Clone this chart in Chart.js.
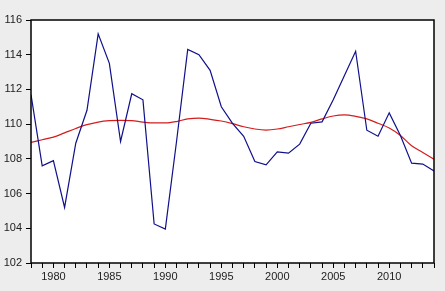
<!DOCTYPE html>
<html>
<head>
<meta charset="utf-8">
<script src="https://cdn.jsdelivr.net/npm/chart.js@4"></script>
<style>
  html, body { margin: 0; padding: 0; background: #ededed; }
  canvas { display: block; }
</style>
</head>
<body>
<canvas id="chart" width="445" height="291"></canvas>
<script>
// yearly values
const years = [];
for (let y = 1978; y <= 2014; y++) years.push(y);

const actual = [
  111.7, 107.6, 107.9, 105.2, 108.9, 110.8, 115.2, 113.5, 109.0, 111.75,
  111.4, 104.25, 103.95, 109.0, 114.3, 114.0, 113.1, 111.0, 110.05, 109.3,
  107.85, 107.65, 108.4, 108.33, 108.85, 110.05, 110.13, 111.4, 112.8, 114.2,
  109.65, 109.3, 110.65, 109.35, 107.75, 107.7, 107.3
];

const trend = [
  108.95, 109.1, 109.25, 109.5, 109.75, 109.97, 110.12, 110.2, 110.22, 110.2,
  110.12, 110.07, 110.07, 110.15, 110.3, 110.35, 110.28, 110.18, 110.03, 109.85,
  109.72, 109.66, 109.72, 109.85, 109.98, 110.1, 110.3, 110.47, 110.53, 110.45,
  110.3, 110.05, 109.78, 109.35, 108.75, 108.37, 107.98
];

const yTicks = [102, 104, 106, 108, 110, 112, 114, 116];
const xLabelEvery = 5;

const frame = {
  id: "frame",
  beforeDraw(c) {
    const { ctx, chartArea: a } = c;
    ctx.save();
    ctx.fillStyle = "#ededed";
    ctx.fillRect(0, 0, c.width, c.height);
    ctx.fillStyle = "#ffffff";
    ctx.fillRect(a.left, a.top, a.right - a.left, a.bottom - a.top);
    ctx.restore();
  },
  afterDraw(c) {
    const { ctx, chartArea: a } = c;
    ctx.save();
    ctx.strokeStyle = "#000";
    ctx.lineWidth = 1.5;
    ctx.strokeRect(a.left, a.top, a.right - a.left, a.bottom - a.top);
    ctx.restore();
  }
};

const font = { family: "'Liberation Sans', Arial, sans-serif", size: 11 };

new Chart(document.getElementById("chart"), {
  type: "line",
  data: {
    datasets: [
      {
        data: years.map((y, i) => ({ x: y, y: actual[i] })),
        borderColor: "#10108a",
        borderWidth: 1.2,
        pointRadius: 0,
        tension: 0
      },
      {
        data: years.map((y, i) => ({ x: y, y: trend[i] })),
        borderColor: "#d41c1c",
        borderWidth: 1.2,
        pointRadius: 0,
        cubicInterpolationMode: "monotone"
      }
    ]
  },
  options: {
    responsive: false,
    animation: false,
    layout: { padding: { top: 20, right: 11, left: 0, bottom: 0 } },
    plugins: { legend: { display: false }, tooltip: { enabled: false } },
    scales: {
      x: {
        type: "linear",
        min: years[0],
        max: years[years.length - 1],
        afterFit: s => { s.height = 28; },
        border: { display: false },
        grid: { drawOnChartArea: false, drawTicks: true, tickLength: 5, color: "#000" },
        ticks: {
          stepSize: 1,
          autoSkip: false,
          maxRotation: 0,
          color: "#222",
          font,
          padding: 2,
          callback: v => (v % xLabelEvery === 0 ? String(v) : "")
        }
      },
      y: {
        min: yTicks[0],
        max: yTicks[yTicks.length - 1],
        afterFit: s => { s.width = 31; },
        afterBuildTicks: s => { s.ticks = yTicks.map(v => ({ value: v })); },
        border: { display: false },
        grid: { drawOnChartArea: false, drawTicks: true, tickLength: 5, color: "#000" },
        ticks: { color: "#222", font, padding: 4 }
      }
    }
  },
  plugins: [frame]
});
</script>
</body>
</html>
